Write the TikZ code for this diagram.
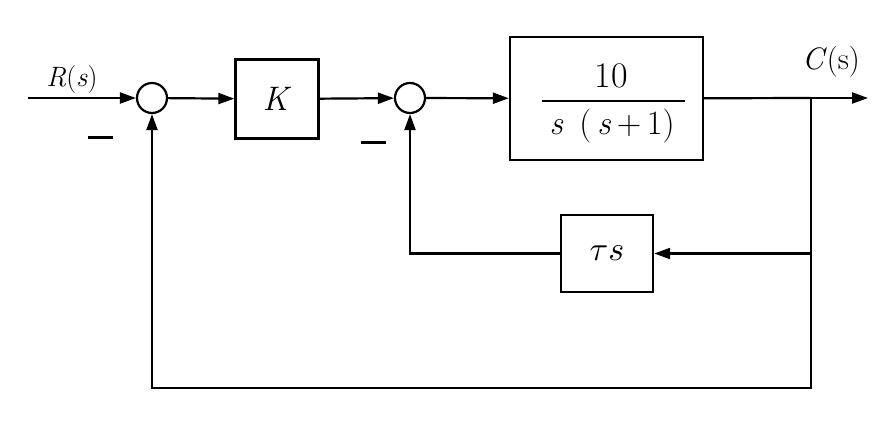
\documentclass[tikz,border=0pt]{standalone}
\usepackage{fontspec}
\usepackage{graphicx}
\usetikzlibrary{arrows.meta}
\newcommand{\fsz}[1]{\fontsize{#1}{#1}\selectfont}
\begin{document}
\begin{tikzpicture}[x=1pt,y=-1pt,line width=2.2pt,
  arr/.style={-{Triangle[length=16pt,width=11pt]}},
  blk/.style={draw,line width=2.4pt,inner sep=0pt},
  sumnode/.style={draw,circle,line width=2.2pt,minimum size=30pt,inner sep=0pt},
  lbl/.style={inner sep=0pt}]
\useasboundingbox[fill=white] (0,0) rectangle (890,424);
% blocks
\node[sumnode] (s1) at (152,98) {};
\node[blk,minimum width=83pt,minimum height=79pt] (K) at (277,99) {\fsz{34}\textit{K}};
\node[sumnode] (s2) at (410,98) {};
\node[blk,minimum width=193pt,minimum height=123pt] (G) at (606.5,98.5) {};
\node[blk,minimum width=92pt,minimum height=77pt] (H) at (607,253.5) {\scalebox{3.4}{$\tau s$}};
% fraction
\node[lbl] (num) at (611,76) {\fsz{36}10};
\coordinate (fl) at (542,101);
\coordinate (fr) at (685,101);
\draw[line width=1.6pt] (fl) -- (fr);
\node[lbl] (den) at (612,126) {\fsz{34}\textit{s}\hspace{16pt}(\,\textit{s}\,+\,1)};
% coordinates
\coordinate (in) at (28,98);
\coordinate (br) at (811,98);
\coordinate (out) at (868,98);
\coordinate (tap) at (811,253.5);
\coordinate (bb) at (811,388);
% connectors
\draw[arr] (in) -- (s1);
\draw[arr] (s1) -- (K);
\draw[arr] (K) -- (s2);
\draw[arr] (s2) -- (G);
\draw (G) -- (br);
\draw[arr] (br) -- (out);
\draw[arr] (tap) -- (H);
\draw[arr] (H) -| (s2);
\draw[arr] (br) -- (bb) -| (s1);
% labels
\node[lbl] (rl) at (72,80) {\fsz{28}\textit{R}(\textit{s})};
\node[lbl] (cl) at (831,62) {\fsz{31}\textit{C}(s)};
\node[lbl] (m1) at (100,137) {\rule{25pt}{3pt}};
\node[lbl] (m2) at (373,142) {\rule{25pt}{3pt}};
\end{tikzpicture}
\end{document}
